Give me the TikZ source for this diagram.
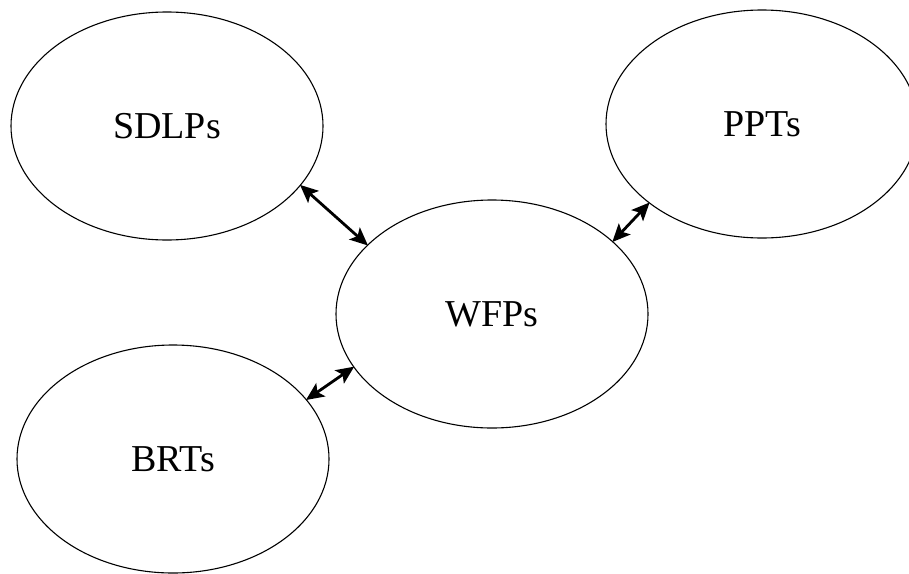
\documentclass[tikz,border=0pt]{standalone}
\usepackage{fontspec}
\setmainfont{Liberation Serif}
\usetikzlibrary{shapes.geometric,arrows.meta}
\begin{document}
\begin{tikzpicture}[x=1pt,y=-1pt,
  blob/.style={ellipse,draw,line width=1.1pt,minimum width=312pt,minimum height=228pt,inner sep=0pt,font=\fontsize{38}{40}\selectfont},
  link/.style={line width=2.8pt,{Stealth[length=18pt,width=16pt,inset=4pt]}-{Stealth[length=18pt,width=16pt,inset=4pt]},shorten <=-1pt,shorten >=-1pt}]
\useasboundingbox (0,0) rectangle (909,573);
\node[blob] (sd) at (167,126) {SDLPs};
\node[blob] (pp) at (762,124) {PPTs};
\node[blob] (wf) at (492,314) {WFPs};
\node[blob] (br) at (173,459) {BRTs};
\draw[link] (sd.-24) -- (wf.151.5);
\draw[link] (pp.-145) -- (wf.31);
\draw[link] (br.24) -- (wf.201);
\end{tikzpicture}
\end{document}
